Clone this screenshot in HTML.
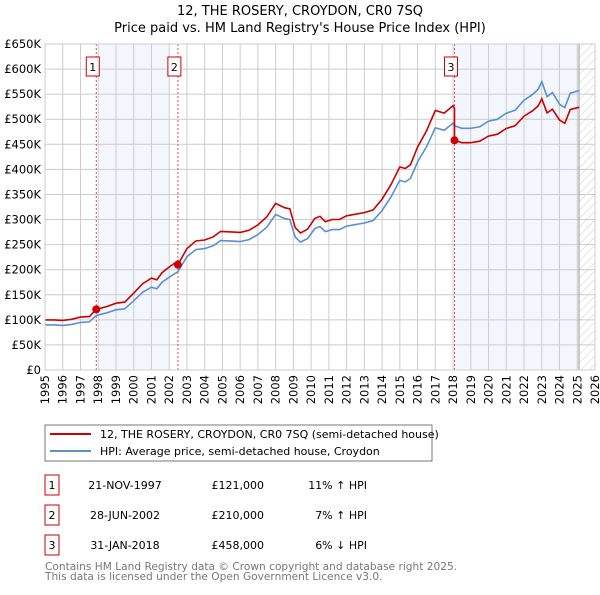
<!DOCTYPE html>
<html><head><meta charset="utf-8"><style>
body{margin:0;background:#fff;font-family:"Liberation Sans","DejaVu Sans",sans-serif}
svg text{font-family:"DejaVu Sans","Liberation Sans",sans-serif}
</style></head><body>
<svg id="c" width="600" height="590" viewBox="0 0 600 590" xmlns="http://www.w3.org/2000/svg">
<defs><pattern id="hatch" width="6" height="6" patternUnits="userSpaceOnUse" patternTransform="rotate(45)"><line x1="0" y1="0" x2="0" y2="6" stroke="#ccc" stroke-width="1"/></pattern></defs>
<text x="300" y="15" text-anchor="middle" font-size="13" fill="#000">12, THE ROSERY, CROYDON, CR0 7SQ</text>
<text x="300" y="32" text-anchor="middle" font-size="13" fill="#000">Price paid vs. HM Land Registry's House Price Index (HPI)</text>
<g id="plot"></g>
<rect x="45" y="425" width="387" height="36" fill="#fff" stroke="#777"/>
<line x1="50" y1="434" x2="91" y2="434" stroke="#cc0000" stroke-width="2"/>
<text x="100" y="438" font-size="11">12, THE ROSERY, CROYDON, CR0 7SQ (semi-detached house)</text>
<line x1="50" y1="451" x2="91" y2="451" stroke="#5b8fd4" stroke-width="2"/>
<text x="100" y="455" font-size="11">HPI: Average price, semi-detached house, Croydon</text>
<g id="table" font-size="11"></g>
<text x="45" y="570" font-size="10.6" fill="#777">Contains HM Land Registry data © Crown copyright and database right 2025.</text>
<text x="45" y="580" font-size="10.6" fill="#777">This data is licensed under the Open Government Licence v3.0.</text>
</svg>
<script>
const hpiYears=[1995,1995.5,1996,1996.5,1997,1997.5,1997.89,1998.5,1999,1999.5,2000,2000.5,2001,2001.3,2001.6,2002,2002.49,2003,2003.5,2004,2004.5,2004.9,2005.5,2006,2006.5,2007,2007.5,2008,2008.5,2008.8,2009.1,2009.4,2009.8,2010.2,2010.5,2010.8,2011.2,2011.6,2012,2012.5,2013,2013.5,2014,2014.5,2015,2015.3,2015.6,2016,2016.5,2017,2017.5,2018,2018.08,2018.5,2019,2019.5,2020,2020.5,2021,2021.5,2022,2022.5,2022.8,2023,2023.3,2023.6,2024,2024.3,2024.6,2024.9,2025.1];
const hpiValues=[90,90,89,91,95,96,109,114,120,122,138,155,165,162,175,185,196,226,240,242,248,258,257,256,260,270,285,310,302,300,265,255,262,282,286,276,280,280,287,290,293,298,318,345,378,375,382,415,445,483,478,492,487,482,482,485,496,500,512,518,538,550,560,575,545,553,530,523,552,555,557];
const saleYears=[1997.89,2002.49,2018.08];
const salePrices=[121,210,458];
const saleLabels=["1","2","3"];
const saleDates=["21-NOV-1997","28-JUN-2002","31-JAN-2018"];
const salePriceText=["£121,000","£210,000","£458,000"];
const saleDiffText=["11% \u2191 HPI","7% \u2191 HPI","6% \u2193 HPI"];
const yTicks=[0,50,100,150,200,250,300,350,400,450,500,550,600,650];
const yTickLabels=["£0","£50K","£100K","£150K","£200K","£250K","£300K","£350K","£400K","£450K","£500K","£550K","£600K","£650K"];
const xTicks=[1995,1996,1997,1998,1999,2000,2001,2002,2003,2004,2005,2006,2007,2008,2009,2010,2011,2012,2013,2014,2015,2016,2017,2018,2019,2020,2021,2022,2023,2024,2025,2026];

const NS="http://www.w3.org/2000/svg";
const X0=45,X1=595,Y0=370,Y1=44;
const xs=v=>X0+(v-1995)/(2026-1995)*(X1-X0);
const ys=v=>Y0-v/650*(Y0-Y1);
const g=document.getElementById('plot');
function mk(t,a,p){const e=document.createElementNS(NS,t);for(const k in a)e.setAttribute(k,a[k]);(p||g).appendChild(e);return e;}
function hpiAt(t){for(let i=1;i<hpiYears.length;i++){if(t<=hpiYears[i]){const f=(t-hpiYears[i-1])/(hpiYears[i]-hpiYears[i-1]);return hpiValues[i-1]+f*(hpiValues[i]-hpiValues[i-1]);}}return hpiValues[hpiValues.length-1];}

let e=mk('rect',{x:xs(1998),y:Y1,width:xs(2002)-xs(1998),height:Y0-Y1,fill:'#eef3fc',opacity:0.7});

e=mk('rect',{x:xs(saleYears[2]),y:Y1,width:xs(2025.1)-xs(saleYears[2]),height:Y0-Y1,fill:'#eef3fc',opacity:0.7});

e=mk('rect',{x:xs(2025.1),y:Y1,width:X1-xs(2025.1),height:Y0-Y1,fill:'url(#hatch)'});

yTicks.forEach((v,i)=>{
  let l=mk('line',{x1:X0,x2:X1,y1:ys(v),y2:ys(v),stroke:'#ccc','stroke-width':1});
  
  let t=mk('text',{x:41,y:ys(v)+4,'text-anchor':'end','font-size':11.5});t.textContent=yTickLabels[i];
  
});
xTicks.forEach(v=>{
  let l=mk('line',{x1:xs(v),x2:xs(v),y1:Y1,y2:Y0,stroke:'#ccc','stroke-width':1});
  
  let t=mk('text',{x:0,y:0,'text-anchor':'end','font-size':11.5,transform:`translate(${xs(v)+4},375) rotate(-90)`});t.textContent=v;
  
});
e=mk('line',{x1:xs(2025.1),x2:xs(2025.1),y1:Y1,y2:Y0,stroke:'#999','stroke-width':1});

saleYears.forEach((s,i)=>{
  let l=mk('line',{x1:xs(s),x2:xs(s),y1:Y1,y2:Y0,stroke:'#e05050','stroke-width':1,'stroke-dasharray':'2,2'});
  
});
let d=hpiYears.map((t,i)=>(i?'L':'M')+xs(t).toFixed(1)+','+ys(hpiValues[i]).toFixed(1)).join('');
e=mk('path',{d:d,fill:'none',stroke:'#5b8fd4','stroke-width':1.6});

const ratios=saleYears.map((s,i)=>salePrices[i]/hpiAt(s));
let pts=[];
hpiYears.forEach((t,i)=>{
  let k=0;for(let j=0;j<saleYears.length;j++)if(t>=saleYears[j])k=j;
  saleYears.forEach((s,j)=>{if(j>0&&t>=s&&(i==0||hpiYears[i-1]<s)){pts.push([s,hpiAt(s)*ratios[j-1]]);pts.push([s,salePrices[j]]);}});
  pts.push([t,hpiValues[i]*ratios[k]]);
});
d=pts.map((p,i)=>(i?'L':'M')+xs(p[0]).toFixed(1)+','+ys(p[1]).toFixed(1)).join('');
e=mk('path',{d:d,fill:'none',stroke:'#cc0000','stroke-width':1.6});

saleYears.forEach((s,i)=>{
  let c=mk('circle',{cx:xs(s),cy:ys(salePrices[i]),r:4,fill:'#cc0000'});
  
  let r=mk('rect',{x:xs(s)-10,y:57,width:13,height:19,fill:'#fff',stroke:'#cc0000'});
  
  let t=mk('text',{x:xs(s)-3.5,y:71,'text-anchor':'middle','font-size':11});t.textContent=saleLabels[i];
  
});
e=mk('rect',{x:X0,y:Y1,width:X1-X0,height:Y0-Y1,fill:'none',stroke:'#ccc'});

const tb=document.getElementById('table');
saleYears.forEach((s,i)=>{
  const yy=475+i*30;
  let r=mk('rect',{x:45,y:yy,width:14,height:20,fill:'#fff',stroke:'#cc0000'},tb);
  
  let t=mk('text',{x:52,y:yy+14,'text-anchor':'middle'},tb);t.textContent=saleLabels[i];
  
  t=mk('text',{x:125,y:yy+14,'text-anchor':'middle'},tb);t.textContent=saleDates[i];
  
  t=mk('text',{x:264,y:yy+14,'text-anchor':'end'},tb);t.textContent=salePriceText[i];
  
  t=mk('text',{x:367,y:yy+14,'text-anchor':'end'},tb);t.textContent=saleDiffText[i];
  
});
</script>
</body></html>
